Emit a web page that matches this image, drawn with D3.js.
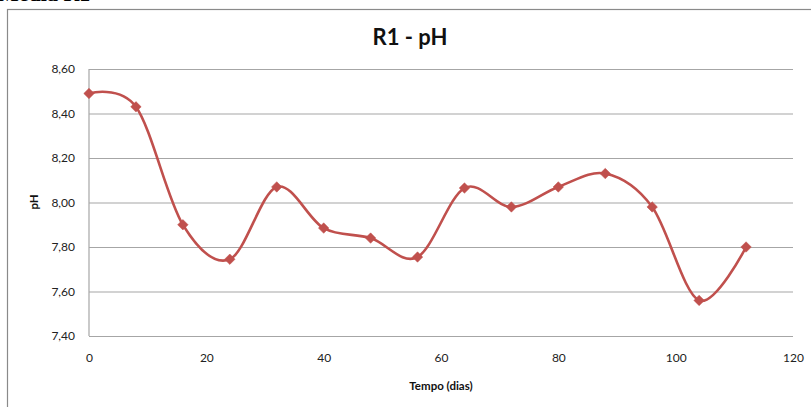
<!DOCTYPE html>
<html>
<head>
<meta charset="utf-8">
<script src="https://d3js.org/d3.v7.min.js"></script>
<style>
  body { margin: 0; background: #fff; }
  svg text { font-family: Lato, "Open Sans", sans-serif; }
</style>
</head>
<body>
<div id="chart"></div>
<script>
// data
const days = [0, 8, 16, 24, 32, 40, 48, 56, 64, 72, 80, 88, 96, 104, 112];
const phValues = [8.49, 8.43, 7.90, 7.745, 8.07, 7.885, 7.84, 7.755, 8.065, 7.98, 8.07, 8.13, 7.98, 7.56, 7.80];
const xTicks = [0, 20, 40, 60, 80, 100, 120];
const yTicks = [7.40, 7.60, 7.80, 8.00, 8.20, 8.40, 8.60];

const width = 811, height = 407;
let margin = {top: 69, right: 18, bottom: 71, left: 89};

const svg = d3.select("#chart").append("svg")
    .attr("width", width)
    .attr("height", height);

// heading above the chart box, cut off by the top edge as in the source
svg.append("text")
    .attr("x", -2)
    .attr("y", 1)
    .style("font-family", "'Liberation Serif', serif")
    .style("font-weight", "bold")
    .style("font-size", "22px")
    .attr("fill", "#000")
    .text("Média R1");

// outer chart frame (runs off the picture to the right and bottom)
svg.append("rect")
    .attr("x", 7.5)
    .attr("y", 9.5)
    .attr("width", 900)
    .attr("height", 500)
    .attr("fill", "#fff")
    .attr("stroke", "#8a8a8a")
    .attr("stroke-width", 1.2);

const x = d3.scaleLinear().domain([0, 120]).range([margin.left, width - margin.right]);
const y = d3.scaleLinear().domain([7.4, 8.6]).range([height - margin.bottom, margin.top]);

const fmt = d => d3.format(".2f")(d).replace(".", ",");

// gridlines + y labels
svg.append("g")
    .attr("transform", "translate(" + margin.left + ",0)")
    .call(d3.axisLeft(y).tickValues(yTicks).tickSize(-(width - margin.right - margin.left)).tickFormat(fmt))
    .call(g => g.select(".domain").remove())
    .call(g => g.selectAll(".tick line").attr("stroke", "#a6a6a6").attr("stroke-width", 1.2))
    .call(g => g.selectAll(".tick text")
        .attr("x", -14)
        .attr("fill", "#222")
        .style("font-size", "12px"));

// x axis labels
svg.append("g")
    .attr("transform", "translate(0," + (height - margin.bottom) + ")")
    .call(d3.axisBottom(x).tickValues(xTicks).tickSize(0))
    .call(g => g.select(".domain").remove())
    .call(g => g.selectAll(".tick text")
        .attr("y", 17)
        .attr("fill", "#222")
        .style("font-size", "12px"));

// left axis line
svg.append("line")
    .attr("x1", margin.left).attr("x2", margin.left)
    .attr("y1", y(8.6)).attr("y2", y(7.4))
    .attr("stroke", "#a6a6a6")
    .attr("stroke-width", 1.2);

// title
svg.append("text")
    .attr("x", 410)
    .attr("y", 45)
    .attr("text-anchor", "middle")
    .style("font-weight", "bold")
    .style("font-size", "22px")
    .attr("fill", "#111")
    .text("R1 - pH");

// axis titles
svg.append("text")
    .attr("x", 441)
    .attr("y", 390)
    .attr("text-anchor", "middle")
    .style("font-weight", "bold")
    .style("font-size", "11.5px")
    .attr("fill", "#111")
    .text("Tempo (dias)");

svg.append("text")
    .attr("transform", "translate(38," + 202 + ") rotate(-90)")
    .attr("text-anchor", "middle")
    .style("font-weight", "bold")
    .style("font-size", "11.5px")
    .attr("fill", "#111")
    .text("pH");

// smoothed series line
const points = days.map((d, i) => [d, phValues[i]]);
const line = d3.line()
    .x(d => x(d[0]))
    .y(d => y(d[1]))
    .curve(d3.curveCardinal.tension(0));

svg.append("path")
    .datum(points)
    .attr("fill", "none")
    .attr("stroke", "#c0504d")
    .attr("stroke-width", 2.6)
    .attr("d", line);

// diamond markers
svg.selectAll("path.marker")
    .data(points)
    .enter().append("path")
    .attr("class", "marker")
    .attr("d", d3.symbol().type(d3.symbolDiamond2).size(70))
    .attr("transform", d => "translate(" + x(d[0]) + "," + y(d[1]) + ")")
    .attr("fill", "#c0504d")
    .attr("stroke", "#c0504d")
    .attr("stroke-width", 0.5);
</script>
</body>
</html>
